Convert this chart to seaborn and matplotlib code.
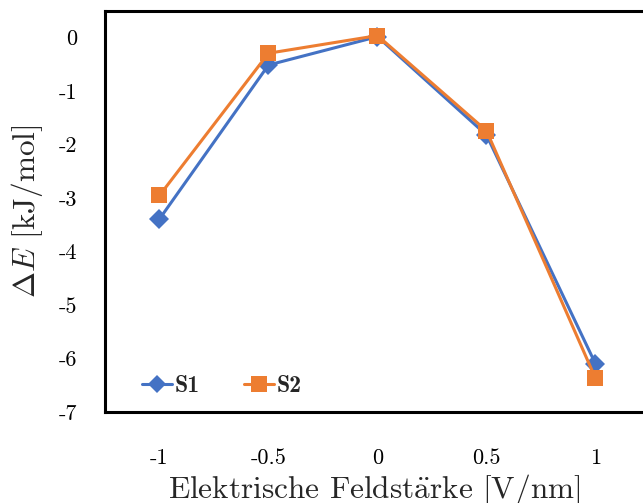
import matplotlib
matplotlib.use("Agg")
import matplotlib.pyplot as plt
import seaborn as sns
import pandas as pd
from matplotlib.lines import Line2D

x_vals = [-1, -0.5, 0, 0.5, 1]
s1 = [-3.39, -0.51, 0.02, -1.82, -6.10]
s2 = [-2.95, -0.29, 0.04, -1.74, -6.37]
series_names = ["S1", "S2"]
x_ticklabels = ["-1", "-0.5", "0", "0.5", "1"]
y_ticks = [0, -1, -2, -3, -4, -5, -6, -7]
y_ticklabels = ["0", "-1", "-2", "-3", "-4", "-5", "-6", "-7"]

df = pd.DataFrame({
    "x": x_vals * 2,
    "y": s1 + s2,
    "series": [series_names[0]] * len(x_vals) + [series_names[1]] * len(x_vals),
})

sns.set_theme(style="white")
plt.rcParams["font.family"] = ["cmr10", "DejaVu Serif"]
plt.rcParams["mathtext.fontset"] = "cm"
plt.rcParams["axes.unicode_minus"] = False

fig = plt.figure(figsize=(6.43, 5.03), dpi=100)
ax = fig.add_axes([105 / 643, 1 - 412 / 503, 1 - 105 / 643, 401 / 503])

palette = {"S1": "#4472C4", "S2": "#ED7D31"}
markers = {"S1": "D", "S2": "s"}
msize = {"S1": 10, "S2": 12}
sns.lineplot(data=df, x="x", y="y", hue="series", style="series",
             palette=palette, markers=markers, dashes=False,
             linewidth=2.2, markersize=10, markeredgewidth=0, ax=ax,
             legend=False)
for line in ax.lines:
    if line.get_marker() == "s":
        line.set_markersize(msize["S2"])
    elif line.get_marker() == "D":
        line.set_markersize(msize["S1"])

# 218 px per x unit; left edge at -1.25
ax.set_xlim(-1.25, -1.25 + 538 / 218)
ax.set_ylim(-7, 0.5)
ax.set_xticks(x_vals)
ax.set_xticklabels(x_ticklabels)
ax.set_yticks(y_ticks)
ax.set_yticklabels(y_ticklabels)
ax.tick_params(axis="both", direction="out", length=6, width=2, labelsize=16,
               colors="black")
ax.tick_params(axis="y", pad=14)
ax.tick_params(axis="x", pad=20)
for side in ["left", "top", "bottom"]:
    ax.spines[side].set_visible(True)
    ax.spines[side].set_color("black")
    ax.spines[side].set_linewidth(2.2)
ax.spines["right"].set_visible(False)

ax.set_xlabel(r"Elektrische Feldst$\ddot{\mathrm{a}}$rke [V/nm]", fontsize=22.5, labelpad=3)
ax.set_ylabel(r"$\Delta E$ [kJ/mol]", fontsize=22.5, labelpad=10)

handles = [Line2D([], [], color=palette[n], marker=markers[n], linewidth=2.2,
                  markersize=msize[n] - 1, markeredgewidth=0)
           for n in series_names]
ax.legend(handles, series_names, loc="lower left", ncol=2, frameon=False,
          prop={"family": "cmb10", "size": 17}, handlelength=1.25,
          handletextpad=0.1, columnspacing=1.9,
          bbox_to_anchor=(0.03, -0.015))

fig.savefig("out.png", dpi=100)
